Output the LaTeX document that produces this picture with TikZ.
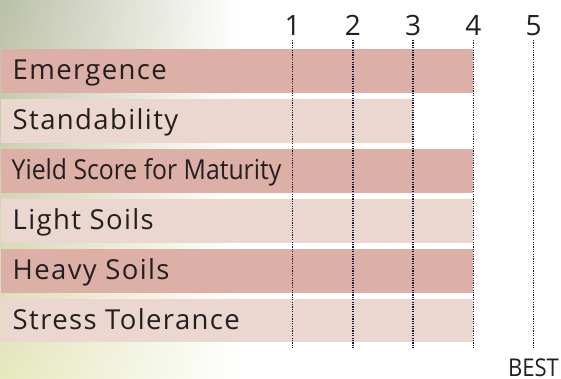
\documentclass[tikz,border=0pt]{standalone}
\usepackage{fontspec}
\setmainfont{Open Sans}[LetterSpace=5]
\newfontfamily\narrowfont[FakeStretch=0.9]{Open Sans}
\usetikzlibrary{fadings}
\definecolor{darkbar}{RGB}{220,175,167}
\definecolor{lightbar}{RGB}{235,214,208}
\definecolor{dotline}{RGB}{20,20,60}
\definecolor{leafgrey}{RGB}{186,192,167}
\definecolor{leafyellow}{RGB}{230,233,190}
\definecolor{ink}{RGB}{35,31,32}
\begin{document}
\begin{tikzpicture}[x=1pt,y=-1pt,
		barlabel/.style={anchor=base west,inner sep=0pt,text=ink,font=\fontsize{27.5}{27}\selectfont},
		score/.style={anchor=base,inner sep=0pt,text=ink,font=\fontsize{28}{28}\selectfont},
		scoreline/.style={dotline,line width=1.4pt,dash pattern=on 1.2pt off 1.2pt}]
	\useasboundingbox (0,0) rectangle (561,378);
	% background photo fade
	\shade[top color=leafgrey,bottom color=leafyellow,path fading=east] (0,0) rectangle (240,378);
	% bars
	\fill[darkbar] (1,48.5) rectangle (473.3,93);
	\node[barlabel] (emergence) at (12.5,79) {Emergence};
	\fill[lightbar] (1,98.5) rectangle (413.1,143);
	\node[barlabel] (standability) at (12.5,129) {Standability};
	\fill[darkbar] (1,148.5) rectangle (473.3,193);
	\node[barlabel] (yield) at (11.5,179) {\narrowfont Yield Score for Maturity};
	\fill[lightbar] (1,198.5) rectangle (473.3,243);
	\node[barlabel] (light) at (12.5,229) {Light Soils};
	\fill[darkbar] (1,248.5) rectangle (473.3,293);
	\node[barlabel] (heavy) at (12.5,279) {Heavy Soils};
	\fill[lightbar] (1,298.5) rectangle (473.3,342);
	\node[barlabel] (stress) at (12.5,329) {Stress Tolerance};
	% score scale
	\foreach \i in {1,...,5}{
		\coordinate (t\i) at (232.5+60.2*\i,40);
		\coordinate (b\i) at (232.5+60.2*\i,348);
		\node[score] (s\i) at (232.5+60.2*\i,35) {\i};
		\draw[scoreline] (t\i) -- (b\i);
	}
	\node[anchor=base,inner sep=0pt,text=ink,font=\narrowfont\fontsize{24.5}{24}\selectfont] (best) at (s5 |- 0,376) {BEST};
\end{tikzpicture}
\end{document}
